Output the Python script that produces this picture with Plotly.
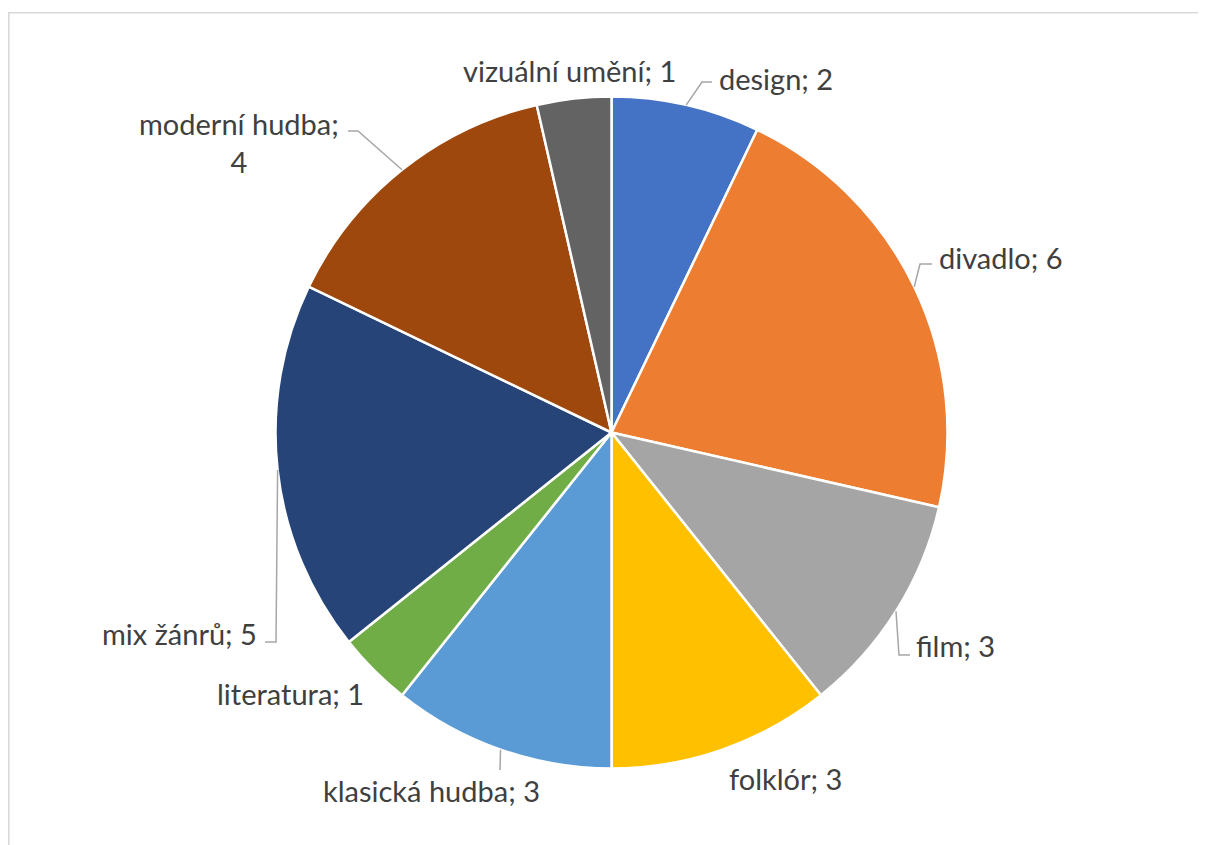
import math
import plotly.graph_objects as go

# ---- data ----
categories = ["design", "divadlo", "film", "folklór", "klasická hudba",
              "literatura", "mix žánrů", "moderní hudba", "vizuální umění"]
values = [2, 6, 3, 3, 3, 1, 5, 4, 1]
colors = ["#4472C4", "#ED7D31", "#A5A5A5", "#FFC000", "#5B9BD5",
          "#70AD47", "#264478", "#9E480E", "#636363"]

# ---- layout constants (screen pixels) ----
W, H = 1198, 837
PAGE_OFF = 8  # page body margin in the browser
CX, CY, R = 611.5, 432.5, 336.0

# label placement: (x, y, xanchor, text-override, leader bend points after slice edge)
label_layout = {
    "design": (717, 78, "left", None, [(702, 82), (712, 82)]),
    "divadlo": (937, 257, "left", None, [(920, 264), (932, 264)]),
    "film": (914, 645, "left", None, [(899, 655), (910, 655)]),
    "folklór": (785, 778, "center", None, None),
    "klasická hudba": (431, 790, "center", None, [(500, 770)]),
    "literatura": (290, 693, "center", None, None),
    "mix žánrů": (259, 633, "right", None, [(276, 642), (265, 642)]),
    "moderní hudba": (238.5, 142, "center", "moderní hudba;<br>4", [(358, 131), (348, 131)]),
    "vizuální umění": (569, 70, "center", None, None),
}

def px(x):
    return (x - PAGE_OFF) / W

def py(y):
    return 1 - (y - PAGE_OFF) / H

fig = go.Figure()
fig.add_trace(go.Pie(
    labels=categories,
    values=values,
    sort=False,
    direction="clockwise",
    rotation=0,
    marker=dict(colors=colors, line=dict(color="white", width=2.5)),
    textinfo="none",
    hoverinfo="label+value",
    showlegend=False,
    domain=dict(x=[px(CX - R), px(CX + R)], y=[py(CY + R), py(CY - R)]),
))

total = sum(values)
cum = 0
annotations = []
shapes = []
for cat, v in zip(categories, values):
    mid = (cum + v / 2) / total * 2 * math.pi
    cum += v
    ex = CX + R * math.sin(mid)
    ey = CY - R * math.cos(mid)
    x, y, anchor, txt, bends = label_layout[cat]
    text = txt if txt else f"{cat}; {v}"
    annotations.append(dict(
        x=px(x), y=py(y), xref="paper", yref="paper",
        text=text, showarrow=False, xanchor=anchor, yanchor="middle",
        align="center",
        font=dict(family="Lato, Open Sans, sans-serif", size=29, color="#404040"),
    ))
    if bends:
        pts = [(ex, ey)] + bends
        path = "M " + " L ".join(f"{px(a):.5f},{py(b):.5f}" for a, b in pts)
        shapes.append(dict(type="path", path=path, xref="paper", yref="paper",
                           line=dict(color="#A6A6A6", width=1.5)))

# chart border (only top and left edges are inside the view)
bx, by = px(8.8), py(12.8)
shapes.append(dict(type="path", xref="paper", yref="paper",
                   path=f"M {bx:.5f},-0.01 L {bx:.5f},{by:.5f} L 1.01,{by:.5f}",
                   line=dict(color="#D9D9D9", width=1.6)))

fig.update_layout(
    width=W, height=H,
    margin=dict(l=0, r=0, t=0, b=0),
    paper_bgcolor="white",
    plot_bgcolor="white",
    annotations=annotations,
    shapes=shapes,
)

fig.write_html("out.html")
